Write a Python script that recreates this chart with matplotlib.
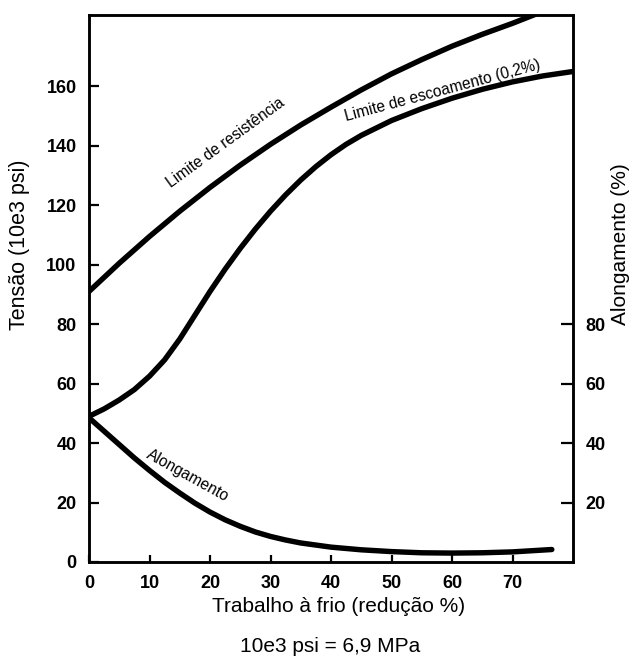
import matplotlib
matplotlib.use("Agg")
import matplotlib.pyplot as plt

# ---- data ----
x_tensile = [0, 5, 10, 15, 20, 25, 30, 35, 40, 45, 50, 55, 60, 65, 70, 73.5, 75]
tensile   = [91, 100.5, 109.5, 118, 126, 133.5, 140.5, 147, 153, 158.8, 164.2, 169,
             173.5, 177.5, 181.2, 184, 185.3]

x_yield = [0, 2.5, 5, 7.5, 10, 12.5, 15, 17.5, 20, 22.5, 25, 27.5, 30, 32.5, 35, 37.5, 40,
           42.5, 45, 50, 55, 60, 65, 70, 75, 80]
yield_s = [49, 51.5, 54.5, 58, 62.5, 68, 75, 83, 91, 98.5, 105.5, 112, 118, 123.5, 128.5,
           133, 137, 140.5, 143.5, 148.5, 152.5, 156, 159, 161.5, 163.5, 165]

x_elong = [0, 2.5, 5, 7.5, 10, 12.5, 15, 17.5, 20, 22.5, 25, 27.5, 30, 32.5, 35, 40, 45,
           50, 55, 60, 65, 70, 76.5]
elong   = [48.5, 44, 39.5, 35, 30.8, 26.8, 23.2, 19.8, 16.8, 14.2, 12, 10.1, 8.6, 7.4, 6.4,
           5.0, 4.1, 3.5, 3.1, 3.0, 3.1, 3.4, 4.2]

x_ticks = [0, 10, 20, 30, 40, 50, 60, 70]
y_ticks_left = [0, 20, 40, 60, 80, 100, 120, 140, 160]
y_ticks_right = [20, 40, 60, 80]

label_font = "Liberation Sans"
tick_font = ["Liberation Sans Narrow", "Liberation Sans", "DejaVu Sans"]

fig = plt.figure(figsize=(6.40, 6.59), dpi=100)
ax = fig.add_axes([89/640, 1-562/659, (573-89)/640, (562-15)/659])

lw = 3.9
ax.plot(x_tensile, tensile, color="black", lw=lw, solid_capstyle="butt", solid_joinstyle="round")
ax.plot(x_yield, yield_s, color="black", lw=lw, solid_capstyle="butt", solid_joinstyle="round")
ax.plot(x_elong, elong, color="black", lw=lw, solid_capstyle="round", solid_joinstyle="round")

ax.set_xlim(0, 80)
ax.set_ylim(0, 184)
ax.set_xticks(x_ticks)
ax.set_yticks(y_ticks_left)

for s in ax.spines.values():
    s.set_linewidth(1.8)

ax.tick_params(axis="y", direction="in", length=7, width=1.6, pad=9)
ax.tick_params(axis="x", direction="in", length=5, width=1.6, pad=9)
for lab in ax.get_xticklabels() + ax.get_yticklabels():
    lab.set_family(tick_font)
    lab.set_weight("bold")
    lab.set_fontsize(13)

ax2 = ax.twinx()
ax2.set_ylim(0, 184)
ax2.set_yticks(y_ticks_right)
ax2.tick_params(axis="y", direction="in", length=9, width=1.6, pad=9)
for lab in ax2.get_yticklabels():
    lab.set_family(tick_font)
    lab.set_weight("bold")
    lab.set_fontsize(13)
for s in ax2.spines.values():
    s.set_linewidth(1.8)

# axis labels
fig.text(20/640, 1-245/659, "Tensão (10e3 psi)", rotation=90, ha="center", va="center",
         family=label_font, fontsize=15.5)
fig.text(621/640, 1-244/659, "Alongamento (%)", rotation=90, ha="center", va="center",
         family=label_font, fontsize=15)
fig.text(339/640, 1-607/659, "Trabalho à frio (redução %)", ha="center", va="center",
         family=label_font, fontsize=15)
fig.text(330/640, 1-646/659, "10e3 psi = 6,9 MPa", ha="center", va="center",
         family=label_font, fontsize=15)

# curve annotations
ax.text(22.6, 141.2, "Limite de resistência", rotation=36, ha="center", va="center",
        rotation_mode="anchor", family=label_font, fontsize=11.2)
ax.text(58.4, 158.6, "Limite de escoamento (0,2%)", rotation=15, ha="center", va="center",
        rotation_mode="anchor", family=label_font, fontsize=11.2)
ax.text(16.3, 29.0, "Alongamento", rotation=-29, ha="center", va="center",
        rotation_mode="anchor", family=label_font, fontsize=11.2)

fig.savefig("out.png", dpi=100)
